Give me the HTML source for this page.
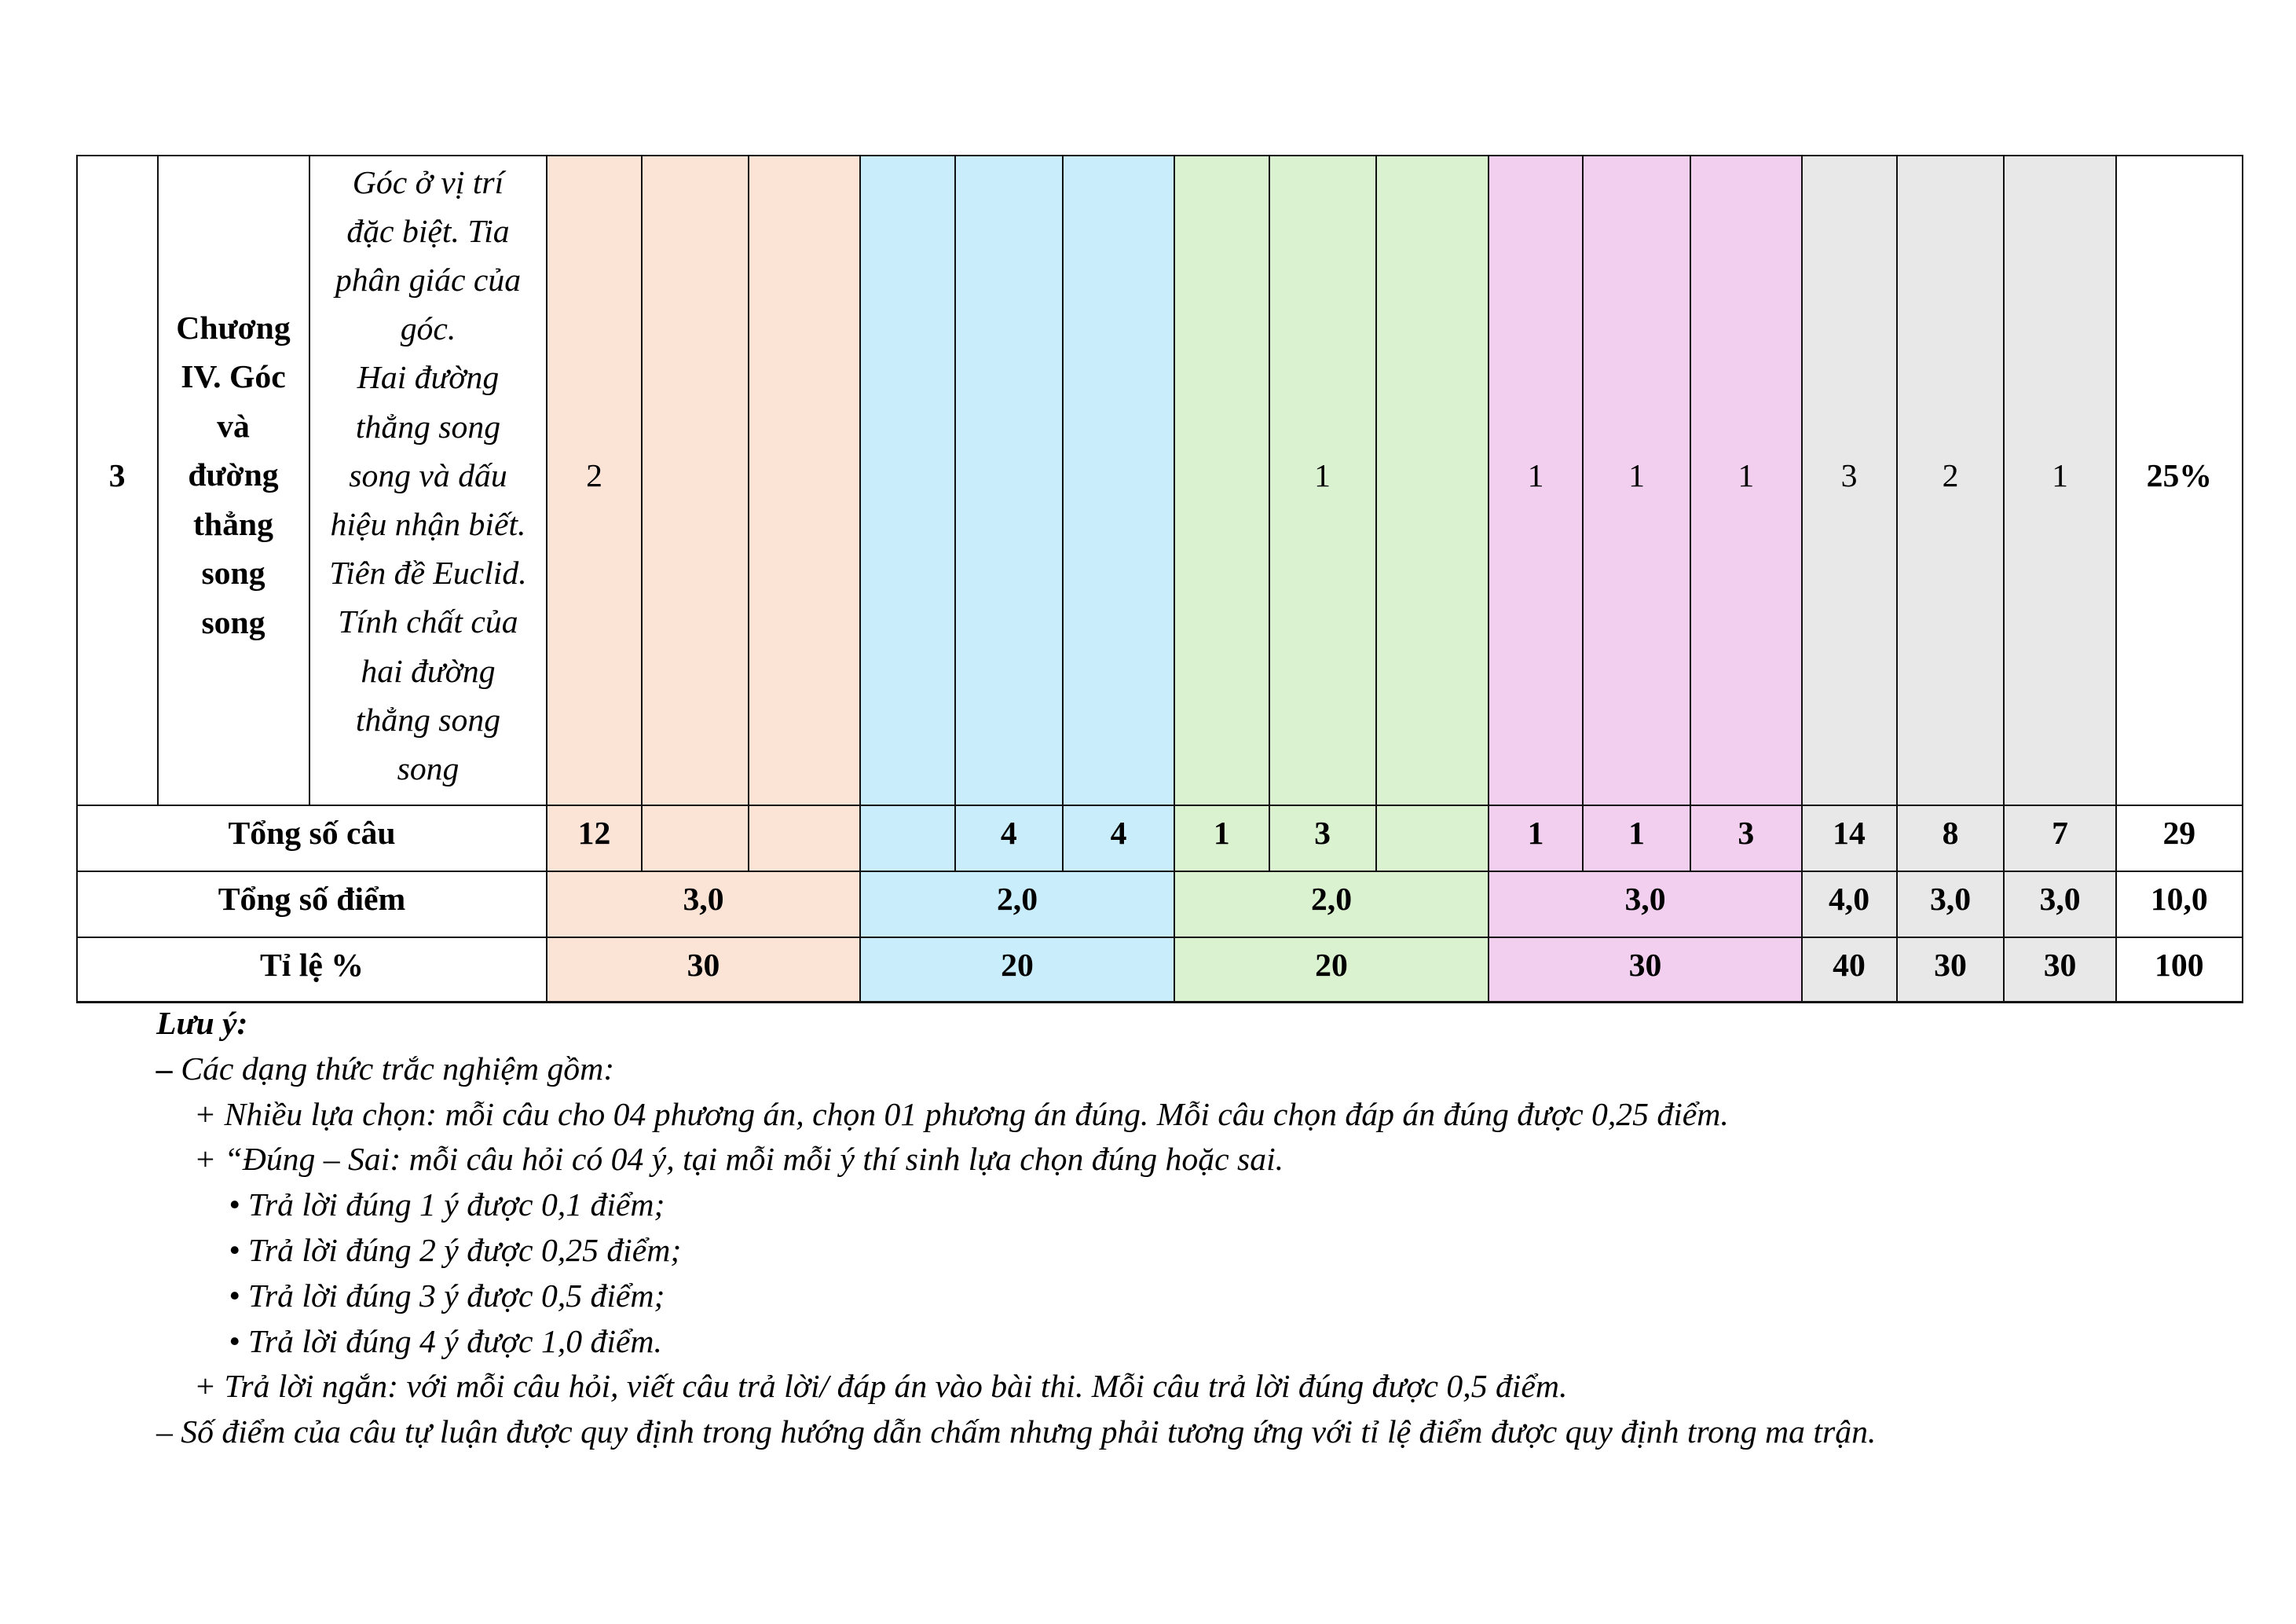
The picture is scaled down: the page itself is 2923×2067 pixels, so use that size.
<!DOCTYPE html>
<html>
<head>
<meta charset="utf-8">
<style>
  html, body { margin:0; padding:0; background:#fff; }
  body { width:2923px; height:2067px; position:relative; overflow:hidden;
         font-family:"Liberation Serif", "Noto Serif CJK SC", serif; color:#000; }
  .bg { position:absolute; }
  .v { position:absolute; width:2px; background:#111; }
  .h { position:absolute; height:2px; background:#111; }
  .t { position:absolute; text-align:center; font-size:41.7px; line-height:62px; white-space:nowrap; }
  .b { font-weight:bold; }
  .i { font-style:italic; }
  .n { position:absolute; font-size:41.7px; line-height:57.8px; font-style:italic; white-space:nowrap; }
</style>
</head>
<body>

<!-- backgrounds -->
<div class="bg" style="left:696px;top:198px;width:399px;height:1078px;background:#FBE3D6;"></div>
<div class="bg" style="left:1095px;top:198px;width:400px;height:1078px;background:#CAEDFB;"></div>
<div class="bg" style="left:1495px;top:198px;width:400px;height:1078px;background:#DAF2D0;"></div>
<div class="bg" style="left:1895px;top:198px;width:399px;height:1078px;background:#F2CEEF;"></div>
<div class="bg" style="left:2294px;top:198px;width:400px;height:1078px;background:#E8E8E8;"></div>

<!-- horizontal lines -->
<div class="h" style="left:97px;top:196.5px;width:2759px;height:2.5px;"></div>
<div class="h" style="left:97px;top:1023.5px;width:2759px;"></div>
<div class="h" style="left:97px;top:1107.7px;width:2759px;"></div>
<div class="h" style="left:97px;top:1192.3px;width:2759px;"></div>
<div class="h" style="left:97px;top:1274px;width:2759px;height:2.5px;"></div>

<!-- vertical lines full height -->
<div class="v" style="left:97px;top:197px;height:1079px;"></div>
<div class="v" style="left:2853.7px;top:197px;height:1079px;"></div>
<div class="v" style="left:695px;top:197px;height:1079px;"></div>
<div class="v" style="left:1094px;top:197px;height:1079px;"></div>
<div class="v" style="left:1494.3px;top:197px;height:1079px;"></div>
<div class="v" style="left:1894px;top:197px;height:1079px;"></div>
<div class="v" style="left:2292.5px;top:197px;height:1079px;"></div>
<div class="v" style="left:2413.5px;top:197px;height:1079px;"></div>
<div class="v" style="left:2550.3px;top:197px;height:1079px;"></div>
<div class="v" style="left:2692.8px;top:197px;height:1079px;"></div>
<!-- row 1 only -->
<div class="v" style="left:199.5px;top:197px;height:828px;"></div>
<div class="v" style="left:393px;top:197px;height:828px;"></div>
<!-- rows 1-2 -->
<div class="v" style="left:815.6px;top:197px;height:912px;"></div>
<div class="v" style="left:952px;top:197px;height:912px;"></div>
<div class="v" style="left:1214.8px;top:197px;height:912px;"></div>
<div class="v" style="left:1352px;top:197px;height:912px;"></div>
<div class="v" style="left:1614.5px;top:197px;height:912px;"></div>
<div class="v" style="left:1750.5px;top:197px;height:912px;"></div>
<div class="v" style="left:2014px;top:197px;height:912px;"></div>
<div class="v" style="left:2151px;top:197px;height:912px;"></div>

<!-- Row 1 text -->
<div class="t b" style="left:98px;width:102px;top:574.6px;">3</div>
<div class="t b" style="left:200px;width:194px;top:386.5px;line-height:62.6px;">Chương<br>IV. Góc<br>và<br>đường<br>thẳng<br>song<br>song</div>
<div class="t i" style="left:394px;width:302px;top:201.5px;line-height:62.2px;">Góc ở vị trí<br>đặc biệt. Tia<br>phân giác của<br>góc.<br>Hai đường<br>thẳng song<br>song và dấu<br>hiệu nhận biết.<br>Tiên đề Euclid.<br>Tính chất của<br>hai đường<br>thẳng song<br>song</div>

<div class="t" style="left:696px;width:121px;top:574.6px;">2</div>
<div class="t" style="left:1615.5px;width:136px;top:574.6px;">1</div>
<div class="t" style="left:1895px;width:120px;top:574.6px;">1</div>
<div class="t" style="left:2015px;width:137px;top:574.6px;">1</div>
<div class="t" style="left:2152px;width:141.5px;top:574.6px;">1</div>
<div class="t" style="left:2293.5px;width:121px;top:574.6px;">3</div>
<div class="t" style="left:2414.5px;width:137px;top:574.6px;">2</div>
<div class="t" style="left:2551.3px;width:142.5px;top:574.6px;">1</div>
<div class="t b" style="left:2693.8px;width:161px;top:574.6px;">25%</div>

<!-- Row 2 -->
<div class="t b" style="left:98px;width:598px;top:1029.7px;">Tổng số câu</div>
<div class="t b" style="left:696px;width:121px;top:1029.7px;">12</div>
<div class="t b" style="left:1215.8px;width:137px;top:1029.7px;">4</div>
<div class="t b" style="left:1353px;width:142px;top:1029.7px;">4</div>
<div class="t b" style="left:1495.3px;width:120px;top:1029.7px;">1</div>
<div class="t b" style="left:1615.5px;width:136px;top:1029.7px;">3</div>
<div class="t b" style="left:1895px;width:120px;top:1029.7px;">1</div>
<div class="t b" style="left:2015px;width:137px;top:1029.7px;">1</div>
<div class="t b" style="left:2152px;width:141.5px;top:1029.7px;">3</div>
<div class="t b" style="left:2293.5px;width:121px;top:1029.7px;">14</div>
<div class="t b" style="left:2414.5px;width:137px;top:1029.7px;">8</div>
<div class="t b" style="left:2551.3px;width:142.5px;top:1029.7px;">7</div>
<div class="t b" style="left:2693.8px;width:161px;top:1029.7px;">29</div>

<!-- Row 3 -->
<div class="t b" style="left:98px;width:598px;top:1114.3px;">Tổng số điểm</div>
<div class="t b" style="left:696px;width:399px;top:1114.3px;">3,0</div>
<div class="t b" style="left:1095px;width:400px;top:1114.3px;">2,0</div>
<div class="t b" style="left:1495px;width:400px;top:1114.3px;">2,0</div>
<div class="t b" style="left:1895px;width:399px;top:1114.3px;">3,0</div>
<div class="t b" style="left:2293.5px;width:121px;top:1114.3px;">4,0</div>
<div class="t b" style="left:2414.5px;width:137px;top:1114.3px;">3,0</div>
<div class="t b" style="left:2551.3px;width:142.5px;top:1114.3px;">3,0</div>
<div class="t b" style="left:2693.8px;width:161px;top:1114.3px;">10,0</div>

<!-- Row 4 -->
<div class="t b" style="left:98px;width:598px;top:1197.7px;">Tỉ lệ %</div>
<div class="t b" style="left:696px;width:399px;top:1197.7px;">30</div>
<div class="t b" style="left:1095px;width:400px;top:1197.7px;">20</div>
<div class="t b" style="left:1495px;width:400px;top:1197.7px;">20</div>
<div class="t b" style="left:1895px;width:399px;top:1197.7px;">30</div>
<div class="t b" style="left:2293.5px;width:121px;top:1197.7px;">40</div>
<div class="t b" style="left:2414.5px;width:137px;top:1197.7px;">30</div>
<div class="t b" style="left:2551.3px;width:142.5px;top:1197.7px;">30</div>
<div class="t b" style="left:2693.8px;width:161px;top:1197.7px;">100</div>

<!-- Notes -->
<div class="n b" style="left:199px;top:1275px;">Lưu ý:</div>
<div class="n" style="left:199px;top:1332.8px;"><b>–</b> Các dạng thức trắc nghiệm gồm:</div>
<div class="n" style="left:247px;top:1390.6px;">+ Nhiều lựa chọn: mỗi câu cho 04 phương án, chọn 01 phương án đúng. Mỗi câu chọn đáp án đúng được 0,25 điểm.</div>
<div class="n" style="left:247px;top:1448.4px;">+ “Đúng – Sai: mỗi câu hỏi có 04 ý, tại mỗi mỗi ý thí sinh lựa chọn đúng hoặc sai.</div>
<div class="n" style="left:291px;top:1506.2px;">• Trả lời đúng 1 ý được 0,1 điểm;</div>
<div class="n" style="left:291px;top:1564px;">• Trả lời đúng 2 ý được 0,25 điểm;</div>
<div class="n" style="left:291px;top:1621.8px;">• Trả lời đúng 3 ý được 0,5 điểm;</div>
<div class="n" style="left:291px;top:1679.6px;">• Trả lời đúng 4 ý được 1,0 điểm.</div>
<div class="n" style="left:247px;top:1737.4px;">+ Trả lời ngắn: với mỗi câu hỏi, viết câu trả lời/ đáp án vào bài thi. Mỗi câu trả lời đúng được 0,5 điểm.</div>
<div class="n" style="left:199px;top:1795.2px;">– Số điểm của câu tự luận được quy định trong hướng dẫn chấm nhưng phải tương ứng với tỉ lệ điểm được quy định trong ma trận.</div>

</body>
</html>
